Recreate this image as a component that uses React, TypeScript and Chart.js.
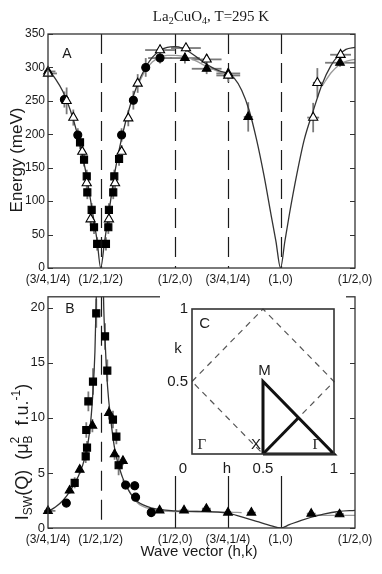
import React, { useEffect, useRef } from 'react';
import { Chart, registerables } from 'chart.js';
Chart.register(...registerables);

const SANS = '"Liberation Sans", Arial, Helvetica, sans-serif';
const SERIF = '"Liberation Serif", "Times New Roman", serif';
const INK = '#1a1a1a';

// ---------- wave-vector path axis ----------
const pathTickPos = [0, 0.3536, 0.8536, 1.2071, 1.5607, 2.0607];
const pathTickLabels = ['(3/4,1/4)', '(1/2,1/2)', '(1/2,0)', '(3/4,1/4)', '(1,0)', '(1/2,0)'];
const dashedLinesA = [0.3536, 0.8536, 1.2071, 1.5607];
const dashedLinesB = [0.3536];
const solidLinesB = [0.8536, 1.2071, 1.5607];
const energyTicks = [0, 50, 100, 150, 200, 250, 300, 350];
const intensityTicks = [0, 5, 10, 15, 20];

// ---------- panel A : energy (meV) ----------
const openTriA_q = [0, 0.125, 0.17, 0.23, 0.26, 0.286, 0.409, 0.45, 0.494, 0.539, 0.602, 0.752, 0.926, 1.065, 1.21, 1.78, 1.808, 1.964];
const openTriA_E = [291, 250, 225, 174, 127, 73, 73, 127, 174, 224, 276, 326, 329, 312, 288, 225, 277, 319];
const openTriA_dE = [6, 20, 12, 10, 10, 10, 10, 10, 10, 12, 14, 8, 6, 8, 10, 22, 22, 6];
const openTriA_dq = [0.06, 0.015, 0.015, 0.01, 0.01, 0.01, 0.01, 0.01, 0.01, 0.015, 0.02, 0.1, 0.1, 0.1, 0.08, 0.04, 0.03, 0.07];

const fullTriA_q = [0, 0.919, 1.065, 1.21, 1.344, 1.96];
const fullTriA_E = [294, 314, 298, 291, 226, 307];
const fullTriA_dE = [6, 8, 8, 8, 22, 6];
const fullTriA_dq = [0.05, 0.1, 0.1, 0.08, 0.03, 0.1];

const circA_q = [0.11, 0.2, 0.494, 0.573, 0.656, 0.752];
const circA_E = [252, 199, 199, 251, 300, 314];
const circA_dE = [12, 10, 10, 14, 14, 8];
const circA_dq = [0.01, 0.01, 0.01, 0.015, 0.02, 0.08];

const sqA_q = [0.215, 0.242, 0.26, 0.264, 0.293, 0.309, 0.33, 0.389, 0.405, 0.409, 0.438, 0.445, 0.477];
const sqA_E = [188, 162, 137, 113, 87, 61, 36, 36, 61, 87, 113, 137, 163];
const sqA_dE = [10, 10, 10, 10, 10, 10, 10, 10, 10, 10, 10, 10, 10];
const sqA_dq = [0.008, 0.008, 0.008, 0.008, 0.008, 0.008, 0.008, 0.008, 0.008, 0.008, 0.008, 0.008, 0.008];

const fitA_q = [0, 0.05, 0.1, 0.15, 0.2, 0.25, 0.3, 0.33, 0.3536, 0.38, 0.41, 0.45, 0.5, 0.55, 0.6, 0.65, 0.7, 0.75, 0.8, 0.8536, 0.9, 0.95, 1.0, 1.05, 1.1, 1.15, 1.2071, 1.25, 1.3, 1.35, 1.4, 1.45, 1.5, 1.53, 1.5607, 1.59, 1.62, 1.67, 1.72, 1.78, 1.84, 1.9, 1.95, 2.0, 2.0607];
const fitA_E = [297, 283, 264, 236, 198, 148, 82, 40, 0, 40, 85, 145, 200, 242, 274, 298, 315, 325, 330, 331, 329, 323, 315, 307, 300, 295, 291, 284, 266, 236, 192, 138, 76, 40, 0, 40, 80, 140, 192, 235, 275, 303, 318, 327, 330];
const fit2A_q = [0.6, 0.65, 0.7, 0.75, 0.8, 0.8536, 0.9, 0.95, 1.0, 1.05, 1.1, 1.15, 1.2071, 1.25];
const fit2A_E = [272, 294, 308, 315, 318, 318, 317, 314, 309, 303, 298, 293, 289, 283];
const fit3A_q = [1.84, 1.9, 1.95, 2.0, 2.0607];
const fit3A_E = [272, 292, 303, 309, 312];

// ---------- panel B : intensity ----------
const sqB_q = [0.179, 0.253, 0.257, 0.262, 0.271, 0.302, 0.324, 0.383, 0.398, 0.436, 0.459, 0.474];
const sqB_I = [4.1, 6.5, 8.9, 7.3, 11.5, 13.3, 19.5, 17.4, 14.3, 9.85, 8.3, 5.7];
const sqB_dI = [0.5, 0.6, 0.7, 0.6, 0.9, 1.2, 1.3, 1.2, 1.0, 0.8, 0.7, 0.9];

const circB_q = [0.123, 0.521, 0.582, 0.588, 0.693];
const circB_I = [2.26, 3.9, 3.84, 2.8, 1.4];
const circB_dI = [0.3, 0.4, 0.4, 0.3, 0.2];

const triB_q = [0, 0.145, 0.213, 0.298, 0.409, 0.447, 0.503, 0.749, 0.913, 1.063, 1.208, 1.365, 1.767, 1.957];
const triB_I = [1.55, 3.4, 5.3, 9.3, 10.45, 6.7, 6.1, 1.6, 1.6, 1.75, 1.4, 1.4, 1.3, 1.25];
const triB_dI = [0.2, 0.3, 0.4, 0.6, 0.6, 0.5, 0.4, 0.2, 0.2, 0.2, 0.2, 0.2, 0.2, 0.2];
const triB_dq = [0.05, 0, 0, 0, 0, 0, 0, 0.03, 0.03, 0.03, 0.03, 0.03, 0.03, 0.03];

const fitB_q = [0, 0.05, 0.1, 0.15, 0.2, 0.25, 0.28, 0.3, 0.315, 0.325, 0.335, 0.365, 0.372, 0.385, 0.4, 0.42, 0.45, 0.5, 0.55, 0.6, 0.7, 0.8536, 1.0, 1.2071, 1.3, 1.4, 1.5, 1.5607, 1.62, 1.7, 1.85, 1.95, 2.0607];
const fitB_I = [1.5, 1.9, 2.5, 3.4, 4.6, 6.5, 8.8, 12.0, 16.0, 21.5, 30, 30, 21.5, 16.5, 12.8, 10.0, 7.0, 4.6, 3.2, 2.4, 1.8, 1.55, 1.5, 1.35, 1.0, 0.6, 0.2, 0, 0.3, 0.7, 1.25, 1.5, 1.6];
const fit2B_q = [0.5, 0.6, 0.7, 0.8536, 1.0, 1.2071, 1.3];
const fit2B_I = [4.4, 2.3, 1.7, 1.5, 1.5, 1.45, 1.4];
const fit3B_q = [1.75, 1.85, 1.95, 2.0607];
const fit3B_I = [1.2, 1.15, 1.15, 1.15];

// ---------- panel C : Brillouin zone (h,k) ----------
const zoneDiamond_h = [0, 0.5, 1, 0.5, 0];
const zoneDiamond_k = [0.5, 1, 0.5, 0, 0.5];
const scanPath_h = [0.5, 0.5, 1, 0.5];
const scanPath_k = [0, 0.5, 0, 0];
const scanBranch_h = [0.5, 0.75];
const scanBranch_k = [0, 0.25];
const insetXTicks = [0.5, 1];
const insetYTicks = [0.5, 1];
const insetLabels = [
  { t: 'Γ', h: 0.07, k: 0.06, serif: true },
  { t: 'X', h: 0.45, k: 0.06, serif: false },
  { t: 'M', h: 0.51, k: 0.57, serif: false },
  { t: 'Γ', h: 0.88, k: 0.06, serif: true },
  { t: 'C', h: 0.09, k: 0.9, serif: false },
];

// ---------- helpers ----------
const pts = (xs: number[], ys: number[]) => xs.map((x, i) => ({ x, y: ys[i] }));

type Run = { t: string; s: number; r?: number; stack?: boolean };

function drawRuns(ctx: CanvasRenderingContext2D, runs: Run[], family: string, cx: number, cy: number, rotate: boolean, weight = 'normal') {
  const pos: number[] = [];
  let total = 0;
  let lastStart = 0;
  let lastW = 0;
  runs.forEach((r) => {
    ctx.font = `${weight} ${r.s}px ${family}`;
    const w = ctx.measureText(r.t).width;
    if (r.stack) {
      pos.push(lastStart);
      const nw = Math.max(lastW, w);
      total = lastStart + nw;
      lastW = nw;
    } else {
      pos.push(total);
      lastStart = total;
      lastW = w;
      total += w;
    }
  });
  ctx.save();
  ctx.translate(cx, cy);
  if (rotate) ctx.rotate(-Math.PI / 2);
  ctx.fillStyle = INK;
  ctx.textBaseline = 'alphabetic';
  ctx.textAlign = 'left';
  runs.forEach((r, i) => {
    ctx.font = `${weight} ${r.s}px ${family}`;
    ctx.fillText(r.t, pos[i] - total / 2, r.r || 0);
  });
  ctx.restore();
}

type TextItem = { runs: Run[]; x: number; y: number; family?: string; rotate?: boolean };
type VLine = { x: number; dash: boolean };
type Decor = { vlines?: VLine[]; texts?: TextItem[]; inwardTicks?: boolean; bg?: string; boxWidth?: number; dataLabels?: typeof insetLabels };

function makeDecor(cfg: Decor) {
  return {
    id: 'decor',
    beforeDraw(chart: any) {
      if (cfg.bg) {
        const ctx = chart.ctx;
        ctx.save();
        ctx.fillStyle = cfg.bg;
        ctx.fillRect(0, 0, chart.width, chart.height);
        ctx.restore();
      }
    },
    beforeDatasetsDraw(chart: any) {
      const { ctx, chartArea: ca, scales } = chart;
      ctx.save();
      ctx.beginPath();
      ctx.rect(ca.left - 4, ca.top, ca.right - ca.left + 8, ca.bottom - ca.top);
      ctx.clip();
      (cfg.vlines || []).forEach((v) => {
        const px = Math.round(scales.x.getPixelForValue(v.x)) + 0.5;
        ctx.setLineDash(v.dash ? [20, 9] : []);
        ctx.strokeStyle = INK;
        ctx.lineWidth = 1.2;
        ctx.beginPath();
        ctx.moveTo(px, ca.top);
        ctx.lineTo(px, ca.bottom);
        ctx.stroke();
      });
      ctx.setLineDash([]);
      chart.data.datasets.forEach((ds: any) => {
        if (!ds.errY && !ds.errX) return;
        ctx.strokeStyle = '#7a7a7a';
        ctx.lineWidth = 1.8;
        ds.data.forEach((p: any, i: number) => {
          const px = scales.x.getPixelForValue(p.x);
          const py = scales.y.getPixelForValue(p.y);
          if (ds.errY && ds.errY[i]) {
            ctx.beginPath();
            ctx.moveTo(px, scales.y.getPixelForValue(p.y - ds.errY[i]));
            ctx.lineTo(px, scales.y.getPixelForValue(p.y + ds.errY[i]));
            ctx.stroke();
          }
          if (ds.errX && ds.errX[i]) {
            ctx.beginPath();
            ctx.moveTo(scales.x.getPixelForValue(p.x - ds.errX[i]), py);
            ctx.lineTo(scales.x.getPixelForValue(p.x + ds.errX[i]), py);
            ctx.stroke();
          }
        });
      });
      ctx.restore();
    },
    afterDraw(chart: any) {
      const { ctx, chartArea: ca, scales } = chart;
      ctx.save();
      ctx.strokeStyle = '#333';
      ctx.lineWidth = cfg.boxWidth || 1.3;
      ctx.strokeRect(ca.left, ca.top, ca.right - ca.left, ca.bottom - ca.top);
      if (cfg.inwardTicks) {
        ctx.lineWidth = 1.2;
        scales.y.ticks.forEach((t: any) => {
          const py = Math.round(scales.y.getPixelForValue(t.value)) + 0.5;
          ctx.beginPath();
          ctx.moveTo(ca.left, py);
          ctx.lineTo(ca.left + 5, py);
          ctx.moveTo(ca.right, py);
          ctx.lineTo(ca.right - 5, py);
          ctx.stroke();
        });
      }
      (cfg.dataLabels || []).forEach((l) => {
        ctx.font = l.serif ? `15px ${SERIF}` : `15px ${SANS}`;
        ctx.fillStyle = INK;
        ctx.textAlign = 'center';
        ctx.textBaseline = 'middle';
        ctx.fillText(l.t, scales.x.getPixelForValue(l.h), scales.y.getPixelForValue(l.k));
      });
      ctx.restore();
      (cfg.texts || []).forEach((t) => drawRuns(ctx, t.runs, t.family || SANS, t.x, t.y, !!t.rotate));
    },
  };
}

const marker = (xs: number[], ys: number[], style: string, fill: string, radius: number, errX?: number[], errY?: number[]) => ({
  data: pts(xs, ys),
  pointStyle: style,
  pointRadius: radius,
  pointBackgroundColor: fill,
  pointBorderColor: '#000',
  pointBorderWidth: 1.1,
  showLine: false,
  clip: false,
  errX,
  errY,
});

const curve = (xs: number[], ys: number[], color: string, width: number) => ({
  data: pts(xs, ys),
  showLine: true,
  pointRadius: 0,
  borderColor: color,
  borderWidth: width,
  cubicInterpolationMode: 'monotone',
  fill: false,
});

const tickFont = { family: SANS, size: 12 };

function pathXScale(height: number) {
  return {
    type: 'linear',
    min: pathTickPos[0],
    max: pathTickPos[pathTickPos.length - 1],
    grid: { display: false, drawTicks: false },
    border: { display: false },
    afterBuildTicks: (s: any) => { s.ticks = pathTickPos.map((v) => ({ value: v })); },
    afterFit: (s: any) => { s.height = height; },
    ticks: {
      autoSkip: false, maxRotation: 0, minRotation: 0, padding: 4, color: INK, font: tickFont,
      callback: (_v: any, i: number) => pathTickLabels[i],
    },
  };
}

function cfgA(): any {
  return {
    type: 'scatter',
    data: {
      datasets: [
        marker(openTriA_q, openTriA_E, 'triangle', '#fff', 5.3, openTriA_dq, openTriA_dE),
        marker(fullTriA_q, fullTriA_E, 'triangle', '#000', 5, fullTriA_dq, fullTriA_dE),
        marker(circA_q, circA_E, 'circle', '#000', 4, circA_dq, circA_dE),
        marker(sqA_q, sqA_E, 'rect', '#000', 5, sqA_dq, sqA_dE),
        curve(fitA_q, fitA_E, '#333', 1.3),
        curve(fit2A_q, fit2A_E, '#9a9a9a', 1.3),
        curve(fit3A_q, fit3A_E, '#9a9a9a', 1.3),
      ],
    },
    options: {
      animation: false, responsive: false, events: [],
      layout: { padding: { top: 34, right: 27, left: 0, bottom: 0 } },
      plugins: { legend: { display: false }, tooltip: { enabled: false } },
      scales: {
        x: pathXScale(18),
        y: {
          min: 0, max: 350,
          afterBuildTicks: (s: any) => { s.ticks = energyTicks.map((v) => ({ value: v })); },
          afterFit: (s: any) => { s.width = 48; },
          grid: { display: false, drawTicks: false },
          border: { display: false },
          ticks: { padding: 3, color: INK, font: tickFont },
        },
      },
    },
    plugins: [makeDecor({
      inwardTicks: true,
      vlines: dashedLinesA.map((x) => ({ x, dash: true })),
      texts: [
        { runs: [{ t: 'A', s: 14 }], x: 67, y: 58 },
        { runs: [{ t: 'Energy (meV)', s: 17 }], x: 22, y: 160, rotate: true },
        {
          runs: [{ t: 'La', s: 15 }, { t: '2', s: 10, r: 3 }, { t: 'CuO', s: 15 }, { t: '4', s: 10, r: 3 }, { t: ', T=295 K', s: 15 }],
          x: 211, y: 21, family: SERIF,
        },
      ],
    })],
  };
}

function cfgB(): any {
  return {
    type: 'scatter',
    data: {
      datasets: [
        marker(triB_q, triB_I, 'triangle', '#000', 5, triB_dq, triB_dI),
        marker(circB_q, circB_I, 'circle', '#000', 4, undefined, circB_dI),
        marker(sqB_q, sqB_I, 'rect', '#000', 5, undefined, sqB_dI),
        curve(fitB_q, fitB_I, '#333', 1.3),
        curve(fit2B_q, fit2B_I, '#9a9a9a', 1.3),
        curve(fit3B_q, fit3B_I, '#9a9a9a', 1.3),
      ],
    },
    options: {
      animation: false, responsive: false, events: [],
      layout: { padding: { top: 6, right: 27, left: 0, bottom: 6 } },
      plugins: { legend: { display: false }, tooltip: { enabled: false } },
      scales: {
        x: pathXScale(40),
        y: {
          min: 0, max: 21,
          afterBuildTicks: (s: any) => { s.ticks = intensityTicks.map((v) => ({ value: v })); },
          afterFit: (s: any) => { s.width = 48; },
          grid: { display: false, drawTicks: false },
          border: { display: false },
          ticks: { padding: 3, color: INK, font: { family: SANS, size: 13 } },
        },
      },
    },
    plugins: [makeDecor({
      inwardTicks: true,
      vlines: [...dashedLinesB.map((x) => ({ x, dash: true })), ...solidLinesB.map((x) => ({ x, dash: false }))],
      texts: [
        { runs: [{ t: 'B', s: 14 }], x: 70, y: 27 },
        { runs: [{ t: 'Wave vector (h,k)', s: 15 }], x: 199, y: 270 },
        {
          runs: [
            { t: 'I', s: 18 }, { t: 'SW', s: 12, r: 4 }, { t: '(Q)  (μ', s: 18 }, { t: 'B', s: 12, r: 4 },
            { t: '2', s: 12, r: -9, stack: true }, { t: '  f.u.', s: 18 }, { t: '-1', s: 12, r: -8 }, { t: ')', s: 18 },
          ],
          x: 28, y: 166, rotate: true,
        },
      ],
    })],
  };
}

function cfgC(): any {
  const line = (xs: number[], ys: number[], color: string, width: number, dash: number[]) => ({
    data: pts(xs, ys), showLine: true, pointRadius: 0, borderColor: color, borderWidth: width,
    borderDash: dash, tension: 0, fill: false, clip: 4,
  });
  return {
    type: 'scatter',
    data: {
      datasets: [
        line(scanPath_h, scanPath_k, '#111', 3, []),
        line(scanBranch_h, scanBranch_k, '#111', 3, []),
        line(zoneDiamond_h, zoneDiamond_k, '#555', 1.2, [6, 5]),
      ],
    },
    options: {
      animation: false, responsive: false, events: [],
      layout: { padding: { top: 13, right: 12, left: 0, bottom: 0 } },
      plugins: { legend: { display: false }, tooltip: { enabled: false } },
      scales: {
        x: {
          type: 'linear', min: 0, max: 1,
          afterBuildTicks: (s: any) => { s.ticks = insetXTicks.map((v) => ({ value: v })); },
          afterFit: (s: any) => { s.height = 22; },
          grid: { display: false, drawTicks: false }, border: { display: false },
          ticks: { padding: 6, color: INK, font: { family: SANS, size: 15 }, callback: (v: any) => (v === 1 ? '1' : String(v)) },
        },
        y: {
          min: 0, max: 1,
          afterBuildTicks: (s: any) => { s.ticks = insetYTicks.map((v) => ({ value: v })); },
          afterFit: (s: any) => { s.width = 32; },
          grid: { display: false, drawTicks: false }, border: { display: false },
          ticks: { padding: 4, color: INK, font: { family: SANS, size: 15 }, callback: (v: any) => (v === 1 ? '1' : String(v)) },
        },
      },
    },
    plugins: [makeDecor({
      bg: '#fff',
      boxWidth: 1.6,
      dataLabels: insetLabels,
      texts: [
        { runs: [{ t: 'k', s: 15 }], x: 18, y: 57 },
        { runs: [{ t: 'h', s: 15 }], x: 67, y: 177 },
        { runs: [{ t: '0', s: 15 }], x: 23, y: 177 },
      ],
    })],
  };
}

export default function App() {
  const aRef = useRef<HTMLCanvasElement>(null);
  const bRef = useRef<HTMLCanvasElement>(null);
  const cRef = useRef<HTMLCanvasElement>(null);
  useEffect(() => {
    const charts = [
      new Chart(aRef.current as HTMLCanvasElement, cfgA()),
      new Chart(bRef.current as HTMLCanvasElement, cfgB()),
      new Chart(cRef.current as HTMLCanvasElement, cfgC()),
    ];
    return () => charts.forEach((c) => c.destroy());
  }, []);
  return (
    <div style={{ position: 'absolute', left: 0, top: 0, width: 382, height: 574, background: '#fff', overflow: 'hidden' }}>
      <canvas ref={aRef} width={382} height={286} style={{ position: 'absolute', left: 0, top: 0, width: 382, height: 286 }} />
      <canvas ref={bRef} width={382} height={288} style={{ position: 'absolute', left: 0, top: 286, width: 382, height: 288 }} />
      <canvas ref={cRef} width={186} height={180} style={{ position: 'absolute', left: 160, top: 296, width: 186, height: 180 }} />
    </div>
  );
}
